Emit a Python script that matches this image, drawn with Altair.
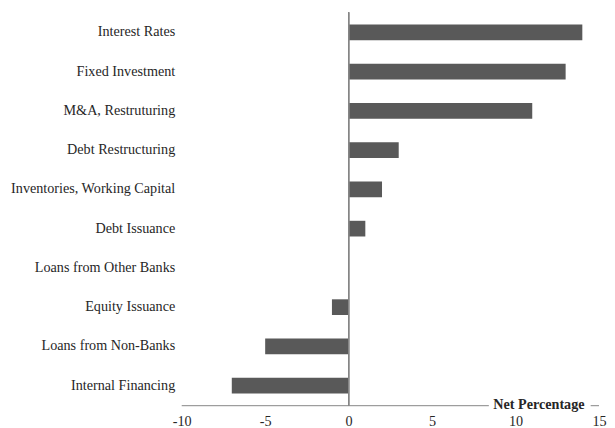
import altair as alt
import pandas as pd

categories = [
    "Interest Rates",
    "Fixed Investment",
    "M&A, Restruturing",
    "Debt Restructuring",
    "Inventories, Working Capital",
    "Debt Issuance",
    "Loans from Other Banks",
    "Equity Issuance",
    "Loans from Non-Banks",
    "Internal Financing",
]
values = [14, 13, 11, 3, 2, 1, 0, -1, -5, -7]
x_ticks = [-10, -5, 0, 5, 10, 15]
axis_segments_start = [-10, 14.5]
axis_segments_end = [8.4, 15]

df = pd.DataFrame({"category": categories, "value": values})
seg = pd.DataFrame({"s": axis_segments_start, "e": axis_segments_end})

FONT = "Liberation Serif"
TXT = "#262626"
FS = 14.2
W, H = 418, 394

xscale = alt.Scale(domain=[-10, 15], nice=False, zero=False)
yscale = alt.Scale(paddingInner=0.6, paddingOuter=0.31)

bars = alt.Chart(df).mark_bar(color="#595959").encode(
    y=alt.Y("category:N", sort=categories, scale=yscale,
            axis=alt.Axis(title=None, domain=False, ticks=False, labelPadding=7,
                          labelFont=FONT, labelFontSize=FS, labelColor=TXT, labelLimit=0)),
    x=alt.X("value:Q", scale=xscale,
            axis=alt.Axis(values=x_ticks, domain=False, ticks=False, grid=False,
                          labelFlush=False, labelExpr="'' + datum.value",
                          labelFont=FONT, labelFontSize=FS, labelColor=TXT, labelPadding=9,
                          title="Net Percentage", titleFont=FONT, titleFontSize=FS,
                          titleFontWeight="bold", titleColor=TXT,
                          titleAlign="right", titleBaseline="middle",
                          titleX=403, titleY=-1)),
    x2=alt.datum(0),
)

zero_rule = alt.Chart(df).mark_rule(color="#868686", strokeWidth=1).encode(
    x=alt.datum(0)
)

axis_line = alt.Chart(seg).mark_rule(color="#868686", strokeWidth=1).encode(
    x=alt.X("s:Q", scale=xscale),
    x2="e:Q",
    y=alt.value(H),
)

chart = alt.layer(bars, zero_rule, axis_line).properties(
    width=W, height=H,
    padding={"left": 2, "top": 3, "right": 0, "bottom": 1},
).configure_view(stroke=None)

chart.save("out.html", embed_options={"renderer": "svg", "actions": False})
